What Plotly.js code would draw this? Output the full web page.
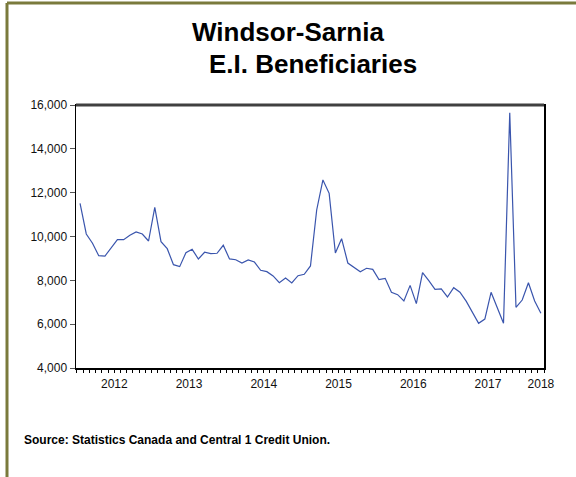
<!DOCTYPE html>
<html>
<head>
<meta charset="utf-8">
<script src="https://cdn.plot.ly/plotly-3.0.1.min.js"></script>
<style>
  html, body { margin: 0; padding: 0; background: #fff; }
  #chart { width: 576px; height: 477px; }
</style>
</head>
<body>
<div id="chart"></div>
<script>
// Monthly E.I. beneficiaries, Jan 2012 – Mar 2018
const beneficiaries = [
  11515, 10115, 9690, 9125, 9110, 9460, 9855, 9855, 10055, 10205, 10115, 9795,   // 2012
  11330, 9765, 9445, 8715, 8625, 9260, 9415, 8975, 9280, 9215, 9235, 9600,       // 2013
  8975, 8940, 8790, 8930, 8835, 8460, 8395, 8200, 7895, 8105, 7880, 8210,        // 2014
  8275, 8655, 11210, 12580, 11970, 9250, 9900, 8790, 8575, 8395, 8550, 8500,     // 2015
  8030, 8090, 7455, 7345, 7055, 7770, 6935, 8350, 7985, 7590, 7605, 7240,        // 2016
  7665, 7455, 7050, 6550, 6040, 6235, 7455, 6750, 6040, 15650, 6770, 7100,       // 2017
  7890, 7055, 6495                                                               // 2018
];
const yearLabels = ["2012", "2013", "2014", "2015", "2016", "2017", "2018"];
const yearLabelPos = [5.5, 17.5, 29.5, 41.5, 53.5, 65.5, 74];
const yearBoundaries = [11.5, 23.5, 35.5, 47.5, 59.5, 71.5];
const yTicks = [4000, 6000, 8000, 10000, 12000, 14000, 16000];
const yTickText = ["4,000", "6,000", "8,000", "10,000", "12,000", "14,000", "16,000"];
const titleLines = ["Windsor-Sarnia", "E.I. Beneficiaries"];
const sourceText = "Source: Statistics Canada and Central 1 Credit Union.";

const monthIndex = beneficiaries.map((v, i) => i);

const trace = {
  x: monthIndex,
  y: beneficiaries,
  type: "scatter",
  mode: "lines",
  line: { color: "#3a55ad", width: 1.2 },
  xaxis: "x",
  yaxis: "y",
  hoverinfo: "x+y"
};

// invisible helper trace so xaxis2 is drawn
const labelTrace = {
  x: [-0.65, 74.5],
  y: [null, null],
  type: "scatter",
  mode: "lines",
  xaxis: "x2",
  yaxis: "y",
  showlegend: false,
  hoverinfo: "skip"
};

const xRange = [-0.65, 74.5];
const font = "Liberation Sans, Arial, sans-serif";

// pixel -> paper helpers (plot area: x 76..544, y 105..368)
const px = (x) => (x - 76) / 468;
const py = (y) => (368 - y) / 263;

const layout = {
  width: 576,
  height: 477,
  margin: { l: 76, r: 32, t: 105, b: 109 },
  paper_bgcolor: "#ffffff",
  plot_bgcolor: "#ffffff",
  showlegend: false,
  font: { family: font, size: 12, color: "#111" },
  xaxis: {
    range: xRange,
    showgrid: false,
    zeroline: false,
    showline: true,
    linecolor: "#000",
    linewidth: 1.5,
    mirror: true,
    tickmode: "array",
    tickvals: yearBoundaries,
    ticktext: yearBoundaries.map(() => ""),
    ticks: "outside",
    ticklen: 6,
    tickwidth: 1,
    tickcolor: "#000",
    showticklabels: false,
    minor: {
      ticks: "outside",
      tick0: 0.5,
      dtick: 1,
      ticklen: 3,
      tickwidth: 1,
      tickcolor: "#000",
      showgrid: false
    },
    fixedrange: true
  },
  xaxis2: {
    overlaying: "x",
    anchor: "y",
    side: "bottom",
    range: xRange,
    showgrid: false,
    zeroline: false,
    showline: false,
    tickmode: "array",
    tickvals: yearLabelPos,
    ticktext: yearLabels,
    ticks: "",
    ticklabelstandoff: 7,
    tickfont: { family: font, size: 12, color: "#111" },
    fixedrange: true
  },
  yaxis: {
    range: [4000, 16000],
    showgrid: false,
    zeroline: false,
    showline: true,
    linecolor: "#000",
    linewidth: 1.5,
    mirror: true,
    tickmode: "array",
    tickvals: yTicks,
    ticktext: yTickText,
    ticks: "outside",
    ticklen: 5,
    tickwidth: 1,
    tickcolor: "#555",
    tickfont: { family: font, size: 12, color: "#111" },
    fixedrange: true
  },
  shapes: [
    // heavy top border of the plot frame
    { type: "line", xref: "paper", yref: "paper", x0: 0, x1: 1, y0: 1, y1: 1,
      line: { color: "#404040", width: 3 } },
    // olive outer frame (left and top)
    { type: "line", xref: "paper", yref: "paper",
      x0: px(7), x1: px(7), y0: py(3), y1: py(480),
      line: { color: "#7a7a3c", width: 3 } },
    { type: "line", xref: "paper", yref: "paper",
      x0: px(7), x1: px(580), y0: py(3), y1: py(3),
      line: { color: "#7a7a3c", width: 3 } }
  ],
  annotations: [
    {
      text: "<b>" + titleLines[0] + "</b>",
      xref: "paper", yref: "paper",
      x: px(288), y: py(32),
      xanchor: "center", yanchor: "middle",
      showarrow: false,
      font: { family: font, size: 26, color: "#000" }
    },
    {
      text: "<b>" + titleLines[1] + "</b>",
      xref: "paper", yref: "paper",
      x: px(313), y: py(64),
      xanchor: "center", yanchor: "middle",
      showarrow: false,
      font: { family: font, size: 26, color: "#000" }
    },
    {
      text: "<b>" + sourceText + "</b>",
      xref: "paper", yref: "paper",
      x: px(22), y: py(440),
      xanchor: "left", yanchor: "middle",
      showarrow: false,
      font: { family: font, size: 12, color: "#000" }
    }
  ]
};

Plotly.newPlot("chart", [trace, labelTrace], layout, { displayModeBar: false, staticPlot: true });
</script>
</body>
</html>
